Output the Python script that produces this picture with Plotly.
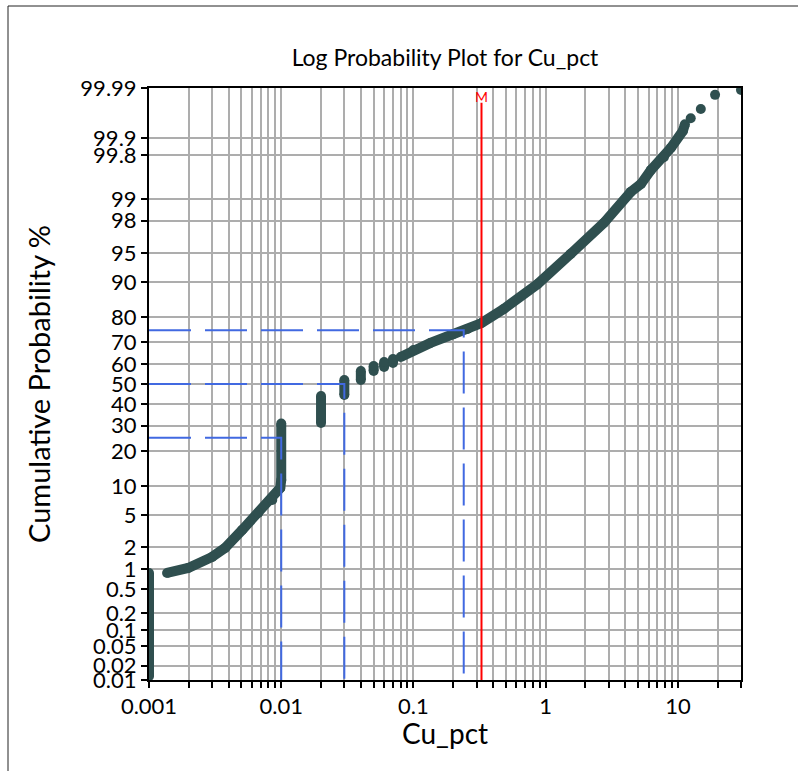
import math
from statistics import NormalDist
import plotly.graph_objects as go

# ---------------- data ----------------
# Cu_pct values (None separates visually disjoint runs of points)
cu_pct = [
    0.001, 0.001, None,
    0.00137, 0.00198, 0.0030, 0.00376, 0.00506, 0.0067, 0.00855, 0.00983, 0.01, 0.01, None,
    0.02, 0.02, None,
    0.03, 0.03, None,
    0.04, 0.04, None,
    0.05, 0.05, None,
    0.06, 0.06, None,
    0.07, 0.07, None,
    0.08, 0.1, 0.1345, 0.201, 0.2565, 0.327, 0.481, 0.869, 1.546, 2.75, 4.40, 5.25,
    6.24, 7.83, 8.85, 10.9, 11.3, None,
    12.5, None,
    14.9, None,
    19.1, None,
    30.0,
]
# cumulative probability (%)
cum_prob = [
    0.012, 0.88, None,
    0.88, 1.04, 1.49, 1.97, 3.33, 5.25, 7.25, 9.57, 11.4, 31.0, None,
    31.2, 44.0, None,
    44.5, 52.0, None,
    52.0, 56.5, None,
    56.5, 58.9, None,
    58.5, 60.9, None,
    60.4, 62.3, None,
    63.3, 66.5, 69.7, 73.5, 75.5, 77.8, 82.7, 89.55, 94.9, 97.85, 99.21, 99.40,
    99.64, 99.78, 99.85, 99.926, 99.945, None,
    99.958, None,
    99.9725, None,
    99.986, None,
    99.989,
]

quartile_prob = [25, 50, 75]
quartile_x = [0.01, 0.03, 0.24]
mean_x = 0.327

y_tick_probs = [0.01, 0.02, 0.05, 0.1, 0.2, 0.5, 1, 2, 5, 10, 20, 30, 40, 50,
                60, 70, 80, 90, 95, 98, 99, 99.8, 99.9, 99.99]
y_tick_text = ["0.01", "0.02", "0.05", "0.1", "0.2", "0.5", "1", "2", "5", "10", "20",
               "30", "40", "50", "60", "70", "80", "90", "95", "98", "99", "99.8",
               "99.9", "99.99"]
x_major = [0.001, 0.01, 0.1, 1, 10]
x_major_text = ["0.001", "0.01", "0.1", "1", "10"]
x_min, x_max = 0.001, 30
p_min, p_max = 0.01, 99.99

# ---------------- helpers ----------------
nd = NormalDist()


def z(p):
    return None if p is None else nd.inv_cdf(p / 100.0)


x_tickvals, x_ticktext = [], []
for d, lab in zip(x_major, x_major_text):
    for m in range(1, 10):
        v = m * d
        if v <= x_max * 1.0001:
            x_tickvals.append(v)
            x_ticktext.append(lab if m == 1 else "")

FONT = "Lato"
DARK = "#2F4F4F"
BLUE = "#4169E1"

fig = go.Figure()

fig.add_trace(go.Scatter(
    x=cu_pct, y=[z(p) for p in cum_prob], mode="lines+markers",
    line=dict(color=DARK, width=10), marker=dict(color=DARK, size=10),
    connectgaps=False, showlegend=False, hoverinfo="skip",
))

for p, q in zip(quartile_prob, quartile_x):
    fig.add_trace(go.Scatter(
        x=[x_min, q, q], y=[z(p), z(p), z(p_min)], mode="lines",
        line=dict(color=BLUE, width=2, dash="42px,14px"),
        showlegend=False, hoverinfo="skip",
    ))

# mean line + label
fig.add_shape(type="line", xref="x", yref="paper", x0=mean_x, x1=mean_x,
              y0=0, y1=0.975, line=dict(color="#FF0000", width=2), layer="above")
fig.add_annotation(x=math.log10(mean_x), xref="x", y=0.986, yref="paper",
                   text="M", showarrow=False, font=dict(color="#FF0000", size=14, family=FONT),
                   yanchor="middle")

# outer frame of the picture
fig.add_shape(type="rect", xref="paper", yref="paper",
              x0=(8 - 149) / 592, x1=1.2, y0=-0.2, y1=(680 - 6) / 592,
              line=dict(color="#222222", width=1), fillcolor="rgba(0,0,0,0)", layer="below")

# axis titles
fig.add_annotation(x=0.5, xref="paper", y=(680 - 733) / 592, yref="paper",
                   text="Cu_pct", showarrow=False, font=dict(size=28, color="black", family=FONT),
                   yanchor="middle")
fig.add_annotation(x=(38 - 149) / 592, xref="paper", y=0.5, yref="paper",
                   text="Cumulative Probability %", textangle=-90, showarrow=False,
                   font=dict(size=29, color="black", family=FONT), xanchor="center")

fig.update_layout(
    width=798, height=771,
    margin=dict(l=149, r=57, t=88, b=91),
    paper_bgcolor="white", plot_bgcolor="white",
    font=dict(family=FONT, color="black"),
    title=dict(text="Log Probability Plot for Cu_pct", x=0.5, xref="paper",
               y=1 - 58 / 771, yanchor="middle", xanchor="center",
               font=dict(size=23, color="black", family=FONT)),
)
fig.update_xaxes(
    type="log", range=[math.log10(x_min), math.log10(x_max)],
    tickmode="array", tickvals=x_tickvals, ticktext=x_ticktext,
    showgrid=True, gridcolor="#ADADAD", gridwidth=2,
    ticks="outside", ticklen=6, tickwidth=2, tickcolor="black",
    tickfont=dict(size=22, family=FONT, color="black"),
    showline=True, linecolor="black", linewidth=2, mirror=True, zeroline=False,
)
fig.update_yaxes(
    range=[z(p_min), z(p_max)],
    tickmode="array", tickvals=[z(p) for p in y_tick_probs], ticktext=y_tick_text,
    showgrid=True, gridcolor="#ADADAD", gridwidth=2,
    ticks="outside", ticklen=6, tickwidth=2, tickcolor="black",
    tickfont=dict(size=22, family=FONT, color="black"),
    showline=True, linecolor="black", linewidth=2, mirror=True, zeroline=False,
)

fig.write_html("out.html")
